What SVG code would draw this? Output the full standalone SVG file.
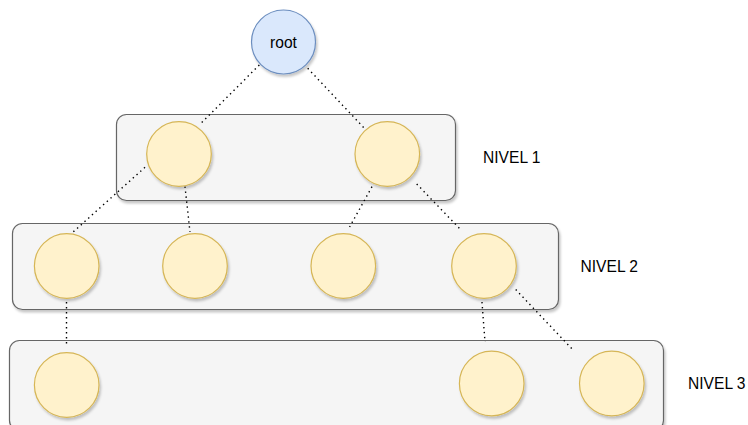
<svg xmlns="http://www.w3.org/2000/svg" width="748" height="425" viewBox="0 0 748 425">
<defs>
<filter id="sh" x="-20%" y="-20%" width="140%" height="140%">
<feDropShadow dx="1.5" dy="2.5" stdDeviation="1.2" flood-color="#000" flood-opacity="0.22"/>
</filter>
</defs>
<style>
.box{fill:#f5f5f5;stroke:#666666;stroke-width:1.2;filter:url(#sh)}
.leaf{fill:#fff2cc;stroke:#d6b656;stroke-width:1.2;filter:url(#sh)}
.root{fill:#dae8fc;stroke:#6c8ebf;stroke-width:1.2;filter:url(#sh)}
.edge{fill:none;stroke:#000;stroke-width:1.4;stroke-dasharray:1.4 3.6}
.lbl{font-family:"Liberation Sans",Arial,sans-serif;font-size:15.6px;fill:#000}
</style>
<g id="level1"><rect class="box" x="116.5" y="114.5" width="339" height="86" rx="10"/></g>
<g id="level2"><rect class="box" x="12.5" y="223.5" width="546" height="86" rx="10"/></g>
<g id="level3"><rect class="box" x="9.5" y="340.5" width="654" height="90" rx="10"/></g>
<g id="connectors">
<line class="edge" x1="259.3" y1="65" x2="199.3" y2="125"/>
<line class="edge" x1="307.7" y1="68.3" x2="365" y2="129"/>
<line class="edge" x1="145" y1="167.3" x2="71.7" y2="233.3"/>
<line class="edge" x1="185" y1="186.5" x2="190" y2="232"/>
<line class="edge" x1="372" y1="186.7" x2="349.6" y2="227"/>
<line class="edge" x1="416.7" y1="184" x2="461.7" y2="230.7"/>
<line class="edge" x1="66.5" y1="302" x2="66.5" y2="344"/>
<line class="edge" x1="482" y1="302" x2="485" y2="342"/>
<line class="edge" x1="515.7" y1="289.5" x2="573.3" y2="350.3"/>
</g>
<g id="root"><circle class="root" cx="283.5" cy="42" r="32"/><text class="lbl" x="283.5" y="47.5" text-anchor="middle">root</text></g>
<g id="n1a"><circle class="leaf" cx="179" cy="154" r="32.3"/></g>
<g id="n1b"><circle class="leaf" cx="387.3" cy="154" r="32.3"/></g>
<g id="n2a"><circle class="leaf" cx="66.7" cy="266" r="32.3"/></g>
<g id="n2b"><circle class="leaf" cx="195" cy="266" r="32.3"/></g>
<g id="n2c"><circle class="leaf" cx="343.3" cy="266" r="32.3"/></g>
<g id="n2d"><circle class="leaf" cx="484" cy="266" r="32.3"/></g>
<g id="n3a"><circle class="leaf" cx="66.7" cy="385" r="32.3"/></g>
<g id="n3b"><circle class="leaf" cx="491.7" cy="383.5" r="32.3"/></g>
<g id="n3c"><circle class="leaf" cx="611.8" cy="383.5" r="32.3"/></g>
<g id="labels">
<text class="lbl" x="483" y="163.3">NIVEL 1</text>
<text class="lbl" x="580.5" y="272.3">NIVEL 2</text>
<text class="lbl" x="688" y="389.3">NIVEL 3</text>
</g>
</svg>
